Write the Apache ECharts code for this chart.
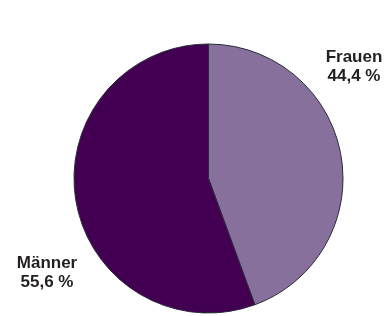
<!DOCTYPE html>
<html><head><meta charset="utf-8">
<script src="https://cdn.jsdelivr.net/npm/echarts@6/dist/echarts.min.js"></script>
<style>html,body{margin:0;padding:0;background:#fff}#c{width:388px;height:316px}</style>
</head><body><div id="c"></div>
<script>
const categories = ['Frauen', 'Männer'];
const values = [44.4, 55.6];
const colors = ['#87709b', '#430052'];
const labelPos = [[354, 67], [47, 273]];

const chart = echarts.init(document.getElementById('c'));
chart.setOption({
  animation: false,
  series: [{
    type: 'pie',
    center: [208.5, 178.5],
    radius: 134.5,
    startAngle: 90,
    clockwise: true,
    data: categories.map((n, i) => ({ name: n, value: values[i], itemStyle: { color: colors[i] } })),
    itemStyle: { borderColor: '#2a2a3a', borderWidth: 1 },
    label: {
      show: true,
      position: 'outside',
      overflow: 'none',
      width: 120,
      formatter: p => p.name + '\n' + p.value.toFixed(1).replace('.', ',') + ' %',
      fontFamily: 'Liberation Sans, Arial, sans-serif',
      fontWeight: 'bold',
      fontSize: 17,
      lineHeight: 19,
      color: '#231f20',
      align: 'center'
    },
    labelLine: { show: false },
    labelLayout: p => ({ x: labelPos[p.dataIndex][0], y: labelPos[p.dataIndex][1], align: 'center', verticalAlign: 'middle', hideOverlap: false, moveOverlap: null })
  }]
});
</script></body></html>
